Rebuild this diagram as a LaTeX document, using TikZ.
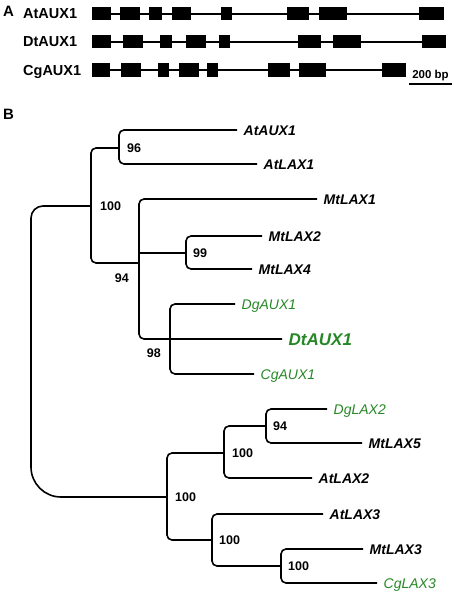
\documentclass[tikz,border=0pt]{standalone}
\usepackage{fontspec}
\setmainfont{Liberation Sans}
\usetikzlibrary{positioning}
\definecolor{cladegreen}{RGB}{38,135,38}
\tikzstyle{panel} = [anchor=west, inner sep=0pt, text height=11pt, text depth=0pt, font=\fontsize{15}{17}\selectfont\bfseries]
\tikzstyle{gene} = [anchor=west, inner sep=0pt, text height=10pt, text depth=0pt, font=\fontsize{14.5}{16}\selectfont\bfseries]
\tikzstyle{exon} = [fill=black]
\tikzstyle{intron} = [draw, line width=1.6pt]
\tikzstyle{branch} = [draw, line width=1.6pt, rounded corners=5pt]
\tikzstyle{leaf} = [anchor=west, inner xsep=6.5pt, inner ysep=0pt, text height=10pt, text depth=0pt, font=\fontsize{14}{16}\selectfont\bfseries\itshape]
\tikzstyle{newleaf} = [leaf, text=cladegreen, font=\fontsize{14}{16}\selectfont\itshape]
\tikzstyle{boot} = [inner sep=0pt, text height=9pt, text depth=0pt, font=\fontsize{12.5}{14}\selectfont\bfseries]
\begin{document}
\begin{tikzpicture}[x=1pt, y=-1pt]
        \useasboundingbox (0,0) rectangle (454,594);

        % A: gene models
        \node (panelA) [panel] at (3,11) {A};
        \node (atGene) [gene] at (23,14) {AtAUX1};
        \node (dtGene) [gene] at (23,42) {DtAUX1};
        \node (cgGene) [gene] at (23,70) {CgAUX1};

        \foreach \nm/\y/\e in {at/14/444, dt/42/446, cg/70/406} {
            \coordinate (\nm S) at (92,\y);
            \coordinate (\nm E) at (\e,\y);
            \draw [intron] (\nm S) -- (\nm E);
        }
        \foreach \a/\b in {92/111, 120/140, 149/162, 172/191, 221/232, 287/309, 319/347, 419/444}
            \fill [exon] (\a,7.5) rectangle (\b,20.5);
        \foreach \a/\b in {92/111, 123/143, 160/172, 186/206, 219/230, 298/321, 333/361, 422/446}
            \fill [exon] (\a,35.5) rectangle (\b,48.5);
        \foreach \a/\b in {92/110, 121/141, 158/169, 179/199, 207/218, 268/290, 299/326, 382/406}
            \fill [exon] (\a,63.5) rectangle (\b,76.5);

        \coordinate (barL) at (409,84);
        \coordinate (barR) at (452,84);
        \draw [intron] (barL) -- (barR) node (barText) [midway, above=2.5pt, inner sep=0pt, font=\fontsize{11.5}{13}\selectfont\bfseries] {200 bp};

        % B: tree
        \node (panelB) [panel] at (3,114) {B};

        \coordinate (root) at (31,350);
        \coordinate (n100a) at (91,206);
        \coordinate (n96) at (119,148);
        \coordinate (n94) at (139,263);
        \coordinate (n99) at (186,253);
        \coordinate (n98) at (170,339);
        \coordinate (n100c) at (167,497);
        \coordinate (n100d) at (224,453);
        \coordinate (n94b) at (266,426);
        \coordinate (n100e) at (212,540);
        \coordinate (n100f) at (281,566);

        \node (atAUX1) [leaf] at (237,130) {AtAUX1};
        \node (atLAX1) [leaf] at (257,164) {AtLAX1};
        \node (mtLAX1) [leaf] at (317,199) {MtLAX1};
        \node (mtLAX2) [leaf] at (262,236) {MtLAX2};
        \node (mtLAX4) [leaf] at (252,269) {MtLAX4};
        \node (dgAUX1) [newleaf] at (235,304) {DgAUX1};
        \node (dtAUX1) [newleaf, text height=12.2pt, font=\fontsize{17}{19}\selectfont\bfseries\itshape] at (282,339) {DtAUX1};
        \node (cgAUX1) [newleaf] at (254,374) {CgAUX1};
        \node (dgLAX2) [newleaf] at (327,409) {DgLAX2};
        \node (mtLAX5) [leaf] at (362,443) {MtLAX5};
        \node (atLAX2) [leaf] at (312,478) {AtLAX2};
        \node (atLAX3) [leaf] at (323,514) {AtLAX3};
        \node (mtLAX3) [leaf] at (363,549) {MtLAX3};
        \node (cgLAX3) [newleaf] at (377,583) {CgLAX3};

        \draw [branch, rounded corners=12pt] (root) |- (n100a);
        \draw [branch, rounded corners=30pt] (root) |- (n100c);

        \draw [branch] (n100a) |- (n96);
        \draw [branch] (n100a) |- (n94);
        \draw [branch] (n96) |- (atAUX1);
        \draw [branch] (n96) |- (atLAX1);
        \draw [branch] (n94) |- (mtLAX1);
        \draw [branch] (n94 |- n99) -- (n99);
        \draw [branch] (n94) |- (dtAUX1);
        \draw [branch] (n99) |- (mtLAX2);
        \draw [branch] (n99) |- (mtLAX4);
        \draw [branch] (n98) |- (dgAUX1);
        \draw [branch] (n98) |- (cgAUX1);

        \draw [branch] (n100c) |- (n100d);
        \draw [branch] (n100c) |- (n100e);
        \draw [branch] (n100d) |- (n94b);
        \draw [branch] (n100d) |- (atLAX2);
        \draw [branch] (n94b) |- (dgLAX2);
        \draw [branch] (n94b) |- (mtLAX5);
        \draw [branch] (n100e) |- (atLAX3);
        \draw [branch] (n100e) |- (n100f);
        \draw [branch] (n100f) |- (mtLAX3);
        \draw [branch] (n100f) |- (cgLAX3);

        \node (b96) [boot, right=8pt of n96] {96};
        \node (b100a) [boot, right=9pt of n100a] {100};
        \node (b94) [boot, below left=10pt and 10pt of n94] {94};
        \node (b99) [boot, right=7pt of n99] {99};
        \node (b98) [boot, below left=9pt and 9pt of n98] {98};
        \node (b100c) [boot, right=8pt of n100c] {100};
        \node (b100d) [boot, right=8pt of n100d] {100};
        \node (b94b) [boot, right=7pt of n94b] {94};
        \node (b100e) [boot, right=7pt of n100e] {100};
        \node (b100f) [boot, right=7pt of n100f] {100};

    \end{tikzpicture}
\end{document}
